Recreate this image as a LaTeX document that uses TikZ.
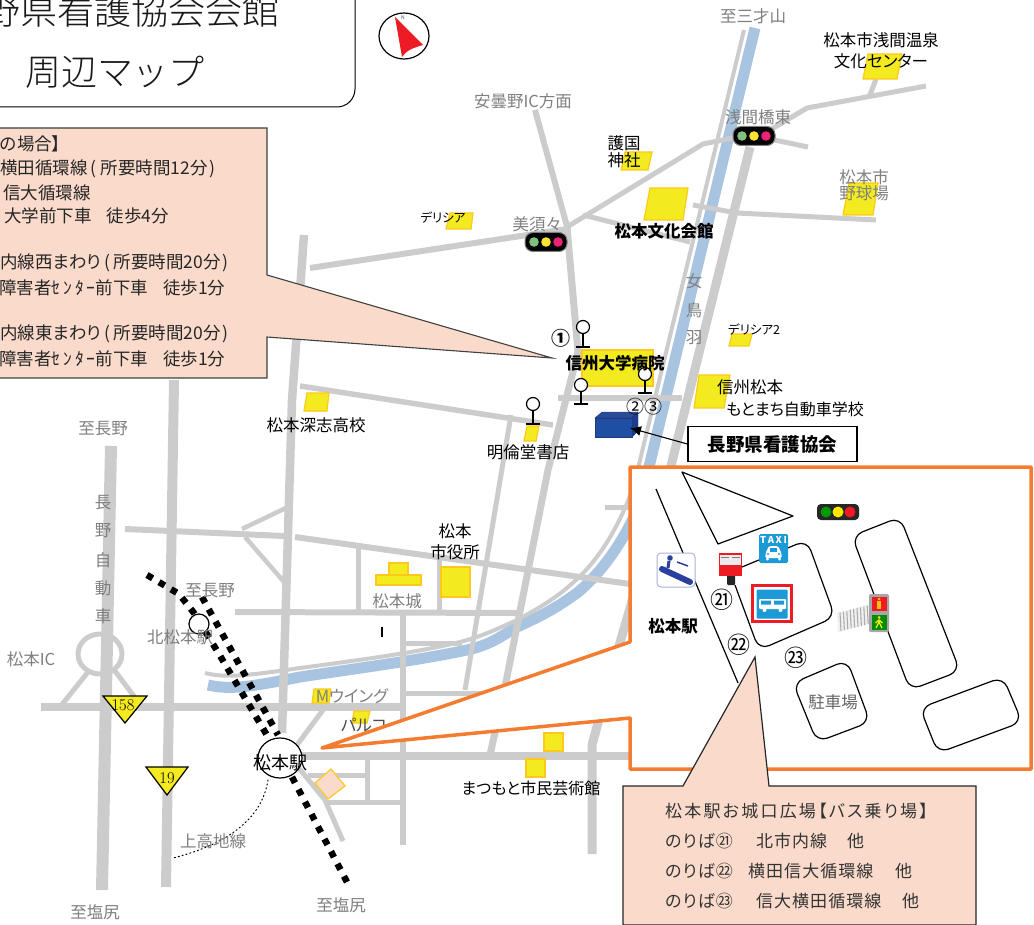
\documentclass[tikz,border=0pt]{standalone}
\usepackage{fontspec}
\setmainfont[RawFeature=+palt]{Noto Sans CJK JP}
\newfontfamily\jplt[RawFeature=+palt]{Noto Sans CJK JP Light}
\newfontfamily\jpltn{Noto Sans CJK JP Light}
\newfontfamily\jpsa[RawFeature=+palt,LetterSpace=13]{Noto Sans CJK JP}
\newfontfamily\jpsb[RawFeature=+palt,LetterSpace=6]{Noto Sans CJK JP}
\newfontfamily\lmr{Latin Modern Roman}
\usetikzlibrary{arrows.meta,shapes.geometric}
\definecolor{roadc}{HTML}{CCCCCC}
\definecolor{riverc}{HTML}{A9C4E0}
\definecolor{orangec}{HTML}{F47C30}
\definecolor{peachc}{HTML}{FADBCB}
\definecolor{yelc}{HTML}{F3EA1F}
\definecolor{yelb}{HTML}{FFC81E}
\definecolor{grayt}{HTML}{7F7F7F}
\definecolor{signb}{HTML}{1C9AD6}
\definecolor{navyc}{HTML}{2B3F9E}
\definecolor{redc}{HTML}{ED1C24}
\newcommand{\fs}[1]{\fontsize{#1}{#1}\selectfont}
\tikzset{
  road/.style={draw=roadc,line join=round},
  bld/.style={fill=yelc,draw=yelb,line width=1.2pt},
  lab/.style={inner sep=0pt,yshift=-1pt,text=black,font=\fs{16.5},align=center},
  glab/.style={inner sep=0pt,yshift=-1pt,text=grayt,font=\fs{16.5},align=center},
  blab/.style={inner sep=0pt,yshift=-1pt,text=black,font=\fs{16.5}\bfseries,align=center},
  clab/.style={inner sep=0pt,yshift=-1pt,text=black!85,font=\fs{17.5},anchor=west},
  dlab/.style={inner sep=0pt,yshift=-1pt,text=black!80,font=\jpsb\fs{17},anchor=west},
  rail/.style={line width=6.5pt,dash pattern=on 6.5pt off 7.5pt,draw=black},
  thin/.style={draw=black,line width=1.2pt},
  isl/.style={draw=black,line width=1.2pt,rounded corners=11pt,fill=white},
  pin/.style={draw=black,line width=1.2pt},
  pinhead/.style={draw=black,line width=1.2pt,fill=white},
}
\begin{document}
\begin{tikzpicture}[x=1pt,y=-1pt]
\useasboundingbox (0,0) rectangle (1034,925);
% ---------- river and roads
\draw[draw=riverc,line width=11pt] (208,685) .. controls (230,690) and (250,687) .. (300,677)
  .. controls (360,668) and (420,660) .. (467,650)
  .. controls (490,645) and (500,637) .. (517,627)
  .. controls (550,612) and (560,605) .. (577,593)
  .. controls (603,572) and (628,535) .. (641,500)
  -- (755,28);
\draw[road,line width=4pt] (205,673) .. controls (225,678) and (245,676) .. (300,668)
  .. controls (360,660) and (420,652) .. (460,642)
  .. controls (480,637) and (495,630) .. (517,620)
  .. controls (545,605) and (560,595) .. (577,579)
  .. controls (600,558) and (620,525) .. (634,485)
  -- (744,30);
\draw[road,line width=12pt] (111,446) -- (102,890);
\draw[road,line width=10pt] (174,380) -- (166,887);
\draw[road,line width=8.5pt] (304,235) -- (292,400) -- (282,733);
\draw[road,line width=8pt] (41,707) -- (402,707);
\draw[road,line width=6pt] (125,529) -- (284,536);
\draw[road,line width=6pt] (295,537) -- (630,584);
\draw[road,line width=4.5pt] (288,507) -- (242,529);
\draw[road,line width=4.5pt] (245,537) -- (285,583);
\draw[road,line width=6pt] (235,612) -- (517,613);
\draw[road,line width=5pt] (358,548) -- (358,612);
\draw[road,line width=5pt] (439,557) -- (439,613);
\draw[road,line width=6pt] (403,613) -- (403,845);
\draw[road,line width=5pt] (405,643) -- (462,643);
\draw[road,line width=5pt] (405,693) -- (510,693);
\draw[road,line width=8pt] (300,756) -- (630,756);
\draw[road,line width=5pt] (605,507) -- (630,507);
\draw[road,line width=9pt] (750,147) -- (670,470) -- (615,660) -- (592,745) -- (592,854);
\draw[road,line width=7pt] (567,227) -- (578,352) -- (548,470) -- (505,687) -- (490,755);
\draw[road,line width=6pt] (535,110) -- (568,230);
\draw[road,line width=5pt] (511,415) -- (465,690);
\draw[road,line width=6pt] (558,398) -- (682,398);
\draw[road,line width=5.5pt] (300,386) -- (553,425);
\draw[road,line width=6pt] (310,268) -- (567,229);
\draw[road,line width=5pt] (567,227) -- (703,144) -- (733,138) -- (755,136) -- (808,147);
\draw[road,line width=5pt] (770,130) -- (807,108) -- (926,86);
\draw[road,line width=5pt] (870,95) -- (876,79);
\draw[road,line width=5pt] (583,215) -- (690,242);
\draw[road,line width=5pt] (693,205) -- (737,213) -- (876,220);
\draw[road,line width=5pt] (100,654) ellipse [x radius=22,y radius=20];
\draw[road,line width=5pt] (88,672) -- (60,707);
\draw[road,line width=5pt] (115,671) -- (142,707);
\draw[road,line width=5pt] (297,745) -- (323,710);
\draw[road,line width=5pt] (298,767) -- (325,800) -- (343,841);
\draw[road,line width=5pt] (308,775) -- (366,775);
\draw[road,line width=5pt] (367,756) -- (367,802);
\draw[road,line width=5pt] (325,802) -- (403,802);
% ---------- buildings
\fill[bld] (868,54) -- (902,54) -- (897,79) -- (863,79) -- cycle;
\fill[bld] (625,152) -- (652,152) -- (648,170) -- (621,170) -- cycle;
\fill[bld] (650,188) -- (688,188) -- (683,220) -- (644,220) -- cycle;
\fill[bld] (849,183) -- (878,183) -- (873,215) -- (843,215) -- cycle;
\fill[bld] (450,213) -- (473,213) -- (471,229) -- (446,229) -- cycle;
\fill[bld] (732,334) -- (752,334) -- (749,346) -- (729,346) -- cycle;
\fill[bld] (582,350) rectangle (653,386);
\fill[bld] (699,375) -- (730,375) -- (724,408) -- (694,408) -- cycle;
\fill[bld] (527,426) -- (539,426) -- (536,441) -- (524,441) -- cycle;
\fill[bld] (307,393) -- (329,393) -- (327,411) -- (304,411) -- cycle;
\fill[bld] (441,567) rectangle (470,597);
\fill[bld] (389,563) rectangle (408,575);
\fill[bld] (376,575) rectangle (421,585);
\fill[bld] (314,689) -- (331,689) -- (329,703) -- (312,703) -- cycle;
\fill[bld] (354,711) -- (370,711) -- (367,723) -- (352,723) -- cycle;
\fill[bld] (544,733) rectangle (563,751);
\fill[bld] (526,759) rectangle (545,777);
\fill[fill=peachc,draw=yelb,line width=1.2pt] (331,769) -- (345,786) -- (328,799) -- (315,783) -- cycle;
% ---------- rail
\draw[rail] (147,575) -- (179,594) -- (194,613) -- (219,654) -- (268,737);
\draw[rail] (202,597) -- (278,735);
\draw[rail] (292,777) -- (348,884);
\draw[line width=1pt,dash pattern=on 1.2pt off 2.8pt,line cap=round] (268,780) .. controls (262,820) and (225,845) .. (173,858);
\node[draw=black,line width=1.2pt,circle,fill=white,minimum size=20pt,inner sep=0pt] (kita) at (199,624) {};
\node[draw=black,line width=1.2pt,ellipse,fill=white,minimum width=44pt,minimum height=40pt,inner sep=0pt] (sta) at (280,758) {};
% ---------- labels under the wedge
\node[glab] (mw) at (352,695) {Mウイング};
\node[glab,text=black!70] (parco) at (364,724) {パルコ};
\draw[line width=1.2pt] (382,627) -- (382,637);
% ---------- wedge and inset
\draw[fill=white,draw=orangec,line width=3.5pt,line join=round] (630,467) -- (1031,467) -- (1031,769) -- (630,769) -- (630,718) -- (322,748) -- (630,642) -- cycle;
% inset drawing
\draw[thin] (656,489) -- (738,683);
\draw[thin,line join=round] (682,472) -- (793,516) -- (718,544) -- cycle;
\draw[isl,fill=none] (742,567) -- (807,540) -- (835,617) -- (759,650) -- (735,585);
\draw[isl] (852,536) -- (900,517) -- (960,671) -- (910,690) -- cycle;
\draw[isl] (793,683) -- (847,660) -- (870,722) -- (817,742) -- cycle;
\draw[isl] (920,708) -- (1003,677) -- (1022,722) -- (938,753) -- cycle;
% escalator icon
\node[draw=navyc!40,line width=1pt,fill=white,rounded corners=4pt,minimum width=38pt,minimum height=34pt,inner sep=0pt] (esc) at (676,570) {};
\draw[navyc,line width=6pt,line cap=round] (662,569) -- (690,582);
\draw[navyc,line width=3pt] (669,561) -- (668,568);
\fill[navyc] (670,558) circle (2.8);
\draw[navyc,line width=1.5pt] (677,562) -- (688,566);
% post box
\fill[black!85,rounded corners=1pt] (727,574) rectangle (735,585);
\fill[redc] (719,553) rectangle (742,576);
\fill[white!92!black] (720,555) rectangle (741,565);
\draw[black!50,line width=1pt] (721,557) -- (729,557) (732,557) -- (740,557);
% taxi icon
\node[fill=signb,rounded corners=1.5pt,minimum width=29pt,minimum height=29pt,inner sep=0pt] (taxi) at (773.5,548.5) {};
\node[inner sep=0pt,text=white,font=\fs{9.5}\bfseries] (taxit) at (773.5,540) {T\,A\,X\,I};
\fill[white,rounded corners=1.5pt] (766,552) -- (769,546) -- (778,546) -- (781,552) -- (782,558) -- (765,558) -- cycle;
\fill[signb] (770,548) rectangle (777,551.5);
\fill[white] (767.5,559) circle (1.6) (779.5,559) circle (1.6);
\fill[signb] (768,554) circle (1.2) (779,554) circle (1.2);
% bus icon
\node[draw=redc,line width=3.5pt,fill=white,minimum width=39pt,minimum height=36pt,inner sep=0pt] (busf) at (772,603.5) {};
\node[fill=signb,rounded corners=1pt,minimum width=31pt,minimum height=29pt,inner sep=0pt] (bus) at (772,604) {};
\fill[white,rounded corners=1pt] (759,599) rectangle (786,609);
\fill[signb] (761,600.5) rectangle (771,604.5) (774,600.5) rectangle (784,604.5);
\fill[white] (764.5,610) circle (2) (780.5,610) circle (2);
% crosswalk
\fill[black!6] (837,613) -- (870,604) -- (872,623) -- (838,632) -- cycle;
\foreach \i in {0,...,8} {\draw[black!32,line width=1.1pt] ({840+3.4*\i},{612.5-.85*\i}) -- ({841+3.4*\i},{631-.85*\i});}
% pedestrian signals
\fill[black!35,rounded corners=2pt] (869,594) rectangle (889,632);
\fill[redc] (871.5,596.5) rectangle (886.5,611);
\fill[green!55!black] (871.5,615) rectangle (886.5,629.5);
\fill[yelc!60!orange] (879,599) circle (1.5);
\fill[yelc!60!orange] (877,601) rectangle (881,609);
\fill[yelc] (879,617.5) circle (1.5);
\draw[yelc,line width=1.3pt] (876,628) -- (879,622) -- (882,628) (875.5,623) -- (879,620) -- (882.5,623) (879,620) -- (879,623);
% inset signal
\node[fill=black!85,rounded corners=4pt,minimum width=42pt,minimum height=16pt,inner sep=0pt] (sig3) at (838,512) {};
\fill[green!60!black] (826,512) circle (5.5);
\fill[yellow!90!orange] (838,512) circle (5.5);
\fill[redc] (850,512) circle (5.5);
\node[inner sep=0pt,font=\fs{23}] (n21) at (722,600) {㉑};
\node[inner sep=0pt,font=\fs{23}] (n22) at (739,645) {㉒};
\node[inner sep=0pt,font=\fs{23}] (n23) at (796,658) {㉓};
\node[blab] (sta2) at (673,625) {松本駅};
\node[glab,text=black!60] (park) at (833,701) {駐車場};
% ---------- bottom callout
\draw[fill=peachc,draw=black!85,line width=1.2pt,line join=miter] (623,786) -- (683,786) -- (755,657) -- (769,786) -- (976,786) -- (976,925) -- (623,925) -- cycle;
\node[dlab,font=\jpsa\fs{17}] (b1) at (665,810) {松本駅お城口広場【バス乗り場】};
\node[dlab] (b2) at (665,840) {\makebox[91pt][l]{のりば㉑}\makebox[91pt][l]{北市内線}他};
\node[dlab] (b3) at (665,870) {\makebox[83pt][l]{のりば㉒}\makebox[147pt][l]{横田信大循環線}他};
\node[dlab] (b4) at (665,900) {\makebox[91pt][l]{のりば㉓}\makebox[146pt][l]{信大横田循環線}他};
% ---------- top callout
\draw[fill=peachc,draw=black!75,line width=1.1pt,line join=miter] (-5,128) -- (267,128) -- (267,275) -- (552,358) -- (267,337) -- (267,378) -- (-5,378) -- cycle;
\node[clab] (t1) at (0,143) {の場合】};
\node[clab] (t2) at (0,168) {横田循環線\kern3pt(\kern4pt所要時間12分\kern2pt)};
\node[clab] (t3) at (3,192) {信大循環線};
\node[clab] (t4) at (4,215) {大学前下車\hspace{15pt}徒歩4分};
\node[clab] (t5) at (0,262) {内線西まわり\kern3pt(\kern4pt所要時間20分\kern2pt)};
\node[clab] (t6) at (-1,287) {障害者ｾ\kern3ptﾝ\kern3ptﾀ\kern3ptｰ前下車\hspace{15pt}徒歩1分};
\node[clab] (t7) at (0,333) {内線東まわり\kern3pt(\kern4pt所要時間20分\kern2pt)};
\node[clab] (t8) at (-1,358) {障害者ｾ\kern3ptﾝ\kern3ptﾀ\kern3ptｰ前下車\hspace{15pt}徒歩1分};
% ---------- title
\draw[fill=white,draw=black,line width=1pt,rounded corners=18pt] (-30,-20) rectangle (355,107);
\node[inner sep=0pt,font=\jplt\fs{37},text=black!90] (title1) at (113,10) {長野県看護協会会館};
\node[inner sep=0pt,font=\jpltn\fs{36},text=black!90] (title2) at (115,72) {周辺マップ};
% ---------- compass
\draw[draw=black,line width=1.2pt,fill=white] (404,36) ellipse [x radius=25,y radius=23];
\fill[redc] (395,17) -- (423,45) .. controls (412,48) and (406,51) .. (402,57) -- cycle;
\node[inner sep=0pt,font=\fs{5},text=black!70] (north) at (403,18) {N};
% ---------- signals
\foreach \nm/\x/\y in {s1/754/136,s2/546/242}{
  \node[fill=black,draw=black!50,line width=1pt,rounded corners=8pt,minimum width=42pt,minimum height=19pt,inner sep=0pt] (\nm) at (\x,\y) {};
  \fill[green!50!black!50!white] ({\x-12},\y) circle (4.8);
  \fill[yellow!80!orange!80!white] (\x,\y) circle (4.8);
  \fill[magenta!70!red!90!white] ({\x+12},\y) circle (4.8);
}
% ---------- triangles
\draw[fill=yelc,draw=black,line width=1.2pt,line join=miter] (103,696) -- (147,696) -- (125,723) -- cycle;
\draw[fill=yelc,draw=black,line width=1.2pt,line join=miter] (146,767) -- (188,767) -- (167,795) -- cycle;
\node[inner sep=0pt,font=\lmr\fs{16.5}] (r158) at (123,705) {158};
\node[inner sep=0pt,font=\lmr\fs{16.5}] (r19) at (167,778) {19};
% ---------- bus stops
\foreach \nm/\x/\yc/\yb in {p1/583/327/347,p2/645/374/393,p3/581/385/404,p4/533/404/424}{
  \draw[pin] (\x,{\yc+6}) -- (\x,\yb);
  \draw[pin] ({\x-7},\yb) -- ({\x+7},\yb);
  \node[pinhead,circle,minimum width=13pt,minimum height=11pt,inner sep=0pt] (\nm) at (\x,\yc) {};
}
% ---------- headquarters
\definecolor{hqf}{HTML}{1E4FA3}
\definecolor{hqt}{HTML}{2A4A9A}
\definecolor{hqs}{HTML}{1B3F8F}
\definecolor{hqe}{HTML}{1F3A7A}
\fill[fill=hqt,draw=hqe] (595,418) -- (602,412) -- (638,412) -- (632,418) -- cycle;
\fill[fill=hqs,draw=hqe] (632,418) -- (638,412) -- (638,431) -- (632,437) -- cycle;
\node[fill=hqf,draw=hqe,minimum width=37pt,minimum height=19pt,inner sep=0pt] (hq) at (613.5,427.5) {};
\node[draw=black,line width=1.4pt,fill=white,minimum width=169pt,minimum height=35pt,inner sep=0pt,font=\fs{18.5}\bfseries,text=black] (hqbox) at (772.5,444) {長野県看護協会};
\coordinate (hqtip) at (630,428);
\draw[black,line width=1.1pt,-{Latex[length=11pt,width=10pt]}] (hqbox.west) -- (hqtip);
% ---------- labels
\node[glab] (a1) at (103,428) {至長野};
\node[glab] (a2) at (103,502) {長};
\node[glab] (a3) at (103,530) {野};
\node[glab] (a4) at (103,559) {自};
\node[glab] (a5) at (103,587) {動};
\node[glab] (a6) at (103,615) {車};
\node[glab] (a7) at (210,590) {至長野};
\node[glab] (a8) at (31,658) {松本IC};
\node[glab] (a9) at (180,636) {北松本駅};
\node[glab] (a10) at (95,911) {至塩尻};
\node[glab] (a11) at (341,904) {至塩尻};
\node[glab] (a12) at (213,840) {上高地線};
\node[glab] (a13) at (397,600) {松本城};
\node[glab] (a14) at (523,100) {安曇野IC方面};
\node[glab] (a15) at (753,15) {至三才山};
\node[glab] (a16) at (758,116) {浅間橋東};
\node[glab] (a17) at (537,223) {美須々};
\node[glab] (a18a) at (864,176) {松本市};
\node[glab] (a18b) at (864,192) {野球場};
\node[glab] (a19) at (694,280) {女};
\node[glab] (a20) at (694,309) {鳥};
\node[glab] (a21) at (694,337) {羽};
\node[lab] (c1) at (881,39) {松本市浅間温泉};
\node[lab] (c2) at (881,60) {文化センター};
\node[lab] (c3) at (624,142) {護国};
\node[lab] (c4) at (624,159) {神社};
\node[lab,font=\fs{12.5}] (c5) at (443,217) {デリシア};
\node[blab] (c6) at (664,230) {松本文化会館};
\node[lab] (c7) at (316,424) {松本深志高校};
\node[lab] (c8) at (528,451) {明倫堂書店};
\node[lab] (c9) at (455,530) {松本};
\node[lab] (c10) at (455,551) {市役所};
\node[lab,font=\fs{16}] (c11) at (531,787) {まつもと市民芸術館};
\node[blab] (c12) at (615,362) {信州大学病院};
\node[lab,font=\fs{12.5}] (c13) at (754,329) {デリシア2};
\node[lab] (c14) at (750,386) {信州松本};
\node[lab,font=\fs{16}] (c15) at (795,408) {もとまち自動車学校};
\node[lab,font=\fs{19}\bfseries] (c16) at (561,337) {①};
\node[lab,font=\fs{18}] (c17) at (644,406) {②③};
\node[blab,font=\fs{18}] (c18) at (280,762) {松本駅};
\end{tikzpicture}
\end{document}
